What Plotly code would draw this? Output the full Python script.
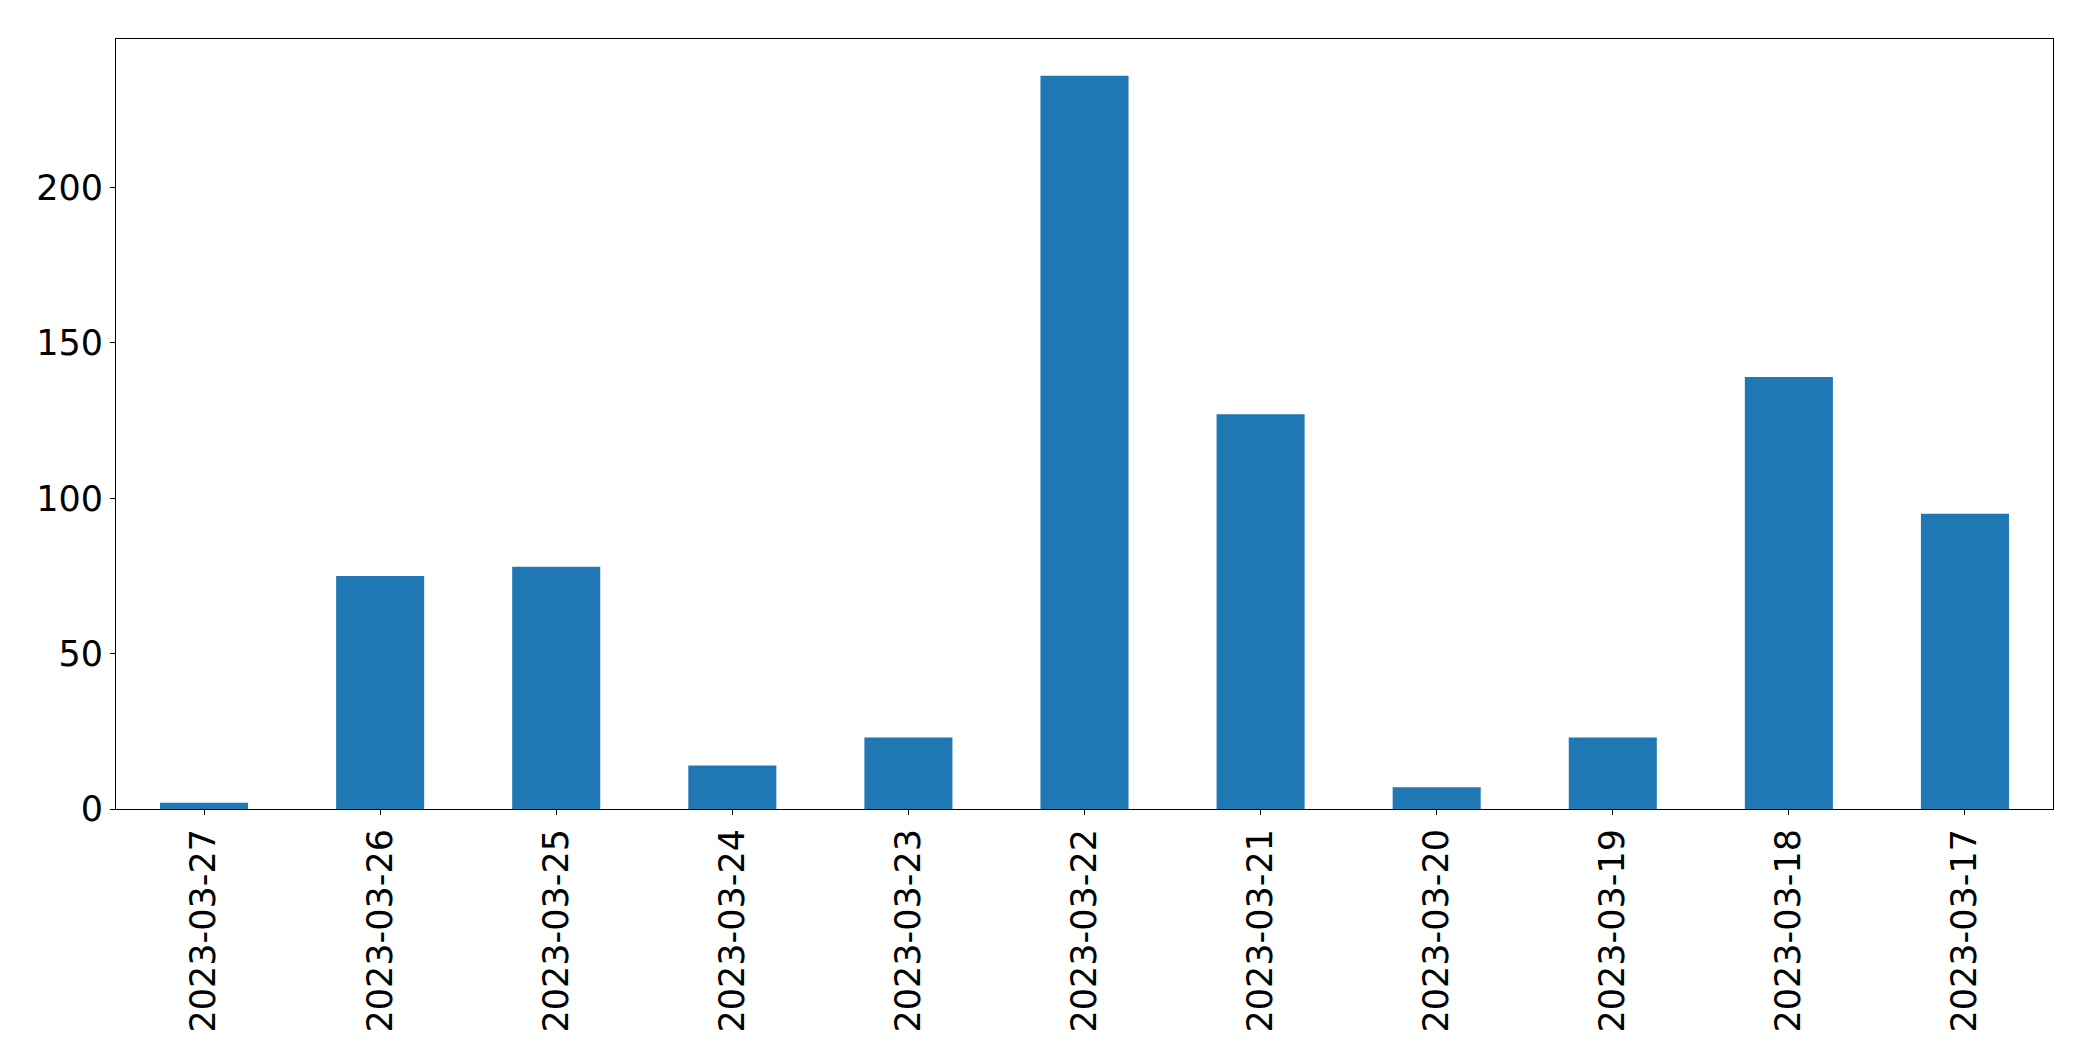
import plotly.graph_objects as go

dates = ["2023-03-27", "2023-03-26", "2023-03-25", "2023-03-24", "2023-03-23",
         "2023-03-22", "2023-03-21", "2023-03-20", "2023-03-19", "2023-03-18",
         "2023-03-17"]
counts = [2, 75, 78, 14, 23, 236, 127, 7, 23, 139, 95]
y_ticks = [0, 50, 100, 150, 200]

fig = go.Figure(go.Bar(
    x=dates, y=counts, width=0.5,
    marker=dict(color="#1f77b4", line=dict(width=0)),
))

font = dict(family="DejaVu Sans", size=35, color="black")

fig.update_layout(
    width=2093, height=1061,
    margin=dict(l=108, r=48, t=31, b=260),
    paper_bgcolor="white", plot_bgcolor="white",
    showlegend=False,
    font=font,
)
fig.update_xaxes(
    type="category", range=[-0.5, 10.5],
    showline=True, linecolor="black", linewidth=1.1, mirror=True,
    ticks="outside", ticklen=5, tickwidth=1.1, tickcolor="black",
    tickangle=-90, tickfont=font, showgrid=False, zeroline=False,
)
fig.update_yaxes(
    range=[0, 247.8], tickvals=y_ticks,
    showline=True, linecolor="black", linewidth=1.1, mirror=True,
    ticks="outside", ticklen=5, tickwidth=1.1, tickcolor="black",
    tickfont=font, showgrid=False, zeroline=False,
)

fig.write_html("out.html")
